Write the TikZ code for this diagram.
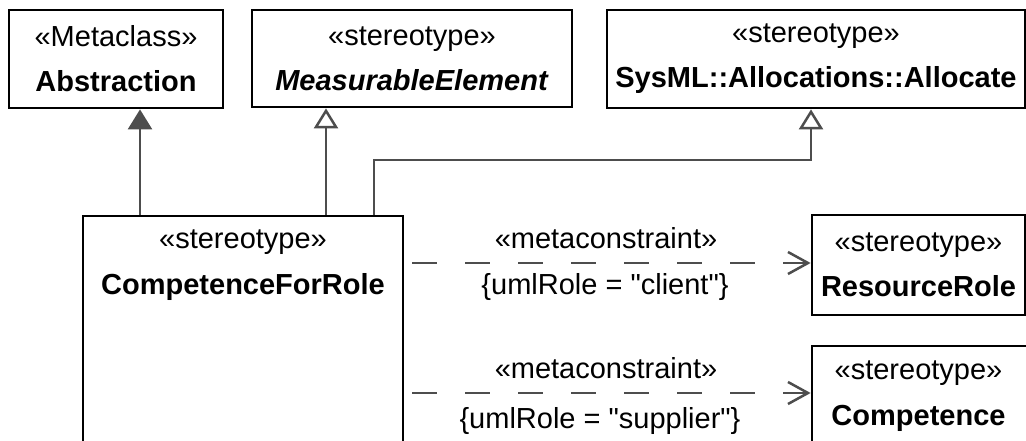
\documentclass[tikz,border=0pt]{standalone}
\usepackage{fontspec}
\setmainfont{Liberation Sans}[Ligatures=TeXOff]
\usetikzlibrary{arrows.meta}
\definecolor{conn}{HTML}{4D4D4D}
\tikzset{
  box/.style={draw=black, line width=2.8pt, rectangle, inner sep=0pt, fill=white},
  txt/.style={font=\fontsize{29}{45}\selectfont, align=center, inner sep=0pt},
  gen/.style={draw=conn, line width=2.5pt, -{Triangle[open, length=20pt, width=24pt, fill=white]}},
  fgen/.style={draw=conn, line width=2.5pt, -{Triangle[length=20pt, width=24pt]}, fill=conn},
  dep/.style={draw=conn, line width=2.5pt, dash pattern=on 25pt off 28pt, -{Straight Barb[length=20pt, width=22pt]}},
}
\begin{document}
\begin{tikzpicture}[x=1pt, y=-1pt]
\clip (0,0) rectangle (1026,441);
\fill[white] (0,0) rectangle (1026,441);
% top boxes
\node[box, minimum width=214pt, minimum height=98pt] (abs) at (116,59) {};
\node[txt] (absT) at (abs.center) {«Metaclass»\\\textbf{Abstraction}};
\node[box, minimum width=320pt, minimum height=97pt] (meas) at (412,58.5) {};
\node[txt] (measT) at (meas.center) {«stereotype»\\\textbf{\textit{MeasurableElement}}};
\node[box, minimum width=418pt, minimum height=98pt] (alloc) at (816,59) {};
\node[txt] (allocT) at (alloc.center) {«stereotype»\\\textbf{SysML::Allocations::Allocate}};
% main box
\node[box, minimum width=320pt, minimum height=234pt] (cfr) at (243,333) {};
\node[txt] (cfrS) at (243,242) {«stereotype»};
\node[txt] (cfrN) at (243,287) {\textbf{CompetenceForRole}};
% right boxes
\node[box, minimum width=213pt, minimum height=100pt] (rr) at (918.5,265) {};
\node[txt] (rrT) at (rr.center) {«stereotype»\\\textbf{ResourceRole}};
\node[box, minimum width=218pt, minimum height=114pt] (comp) at (921,403) {};
\node[txt] (compS) at (918.5,373) {«stereotype»};
\node[txt] (compN) at (918.5,418) {\textbf{Competence}};
% generalizations
\coordinate (xa) at (140,0);
\coordinate (xm) at (326,0);
\coordinate (xs) at (374,0);
\coordinate (xt) at (811,160);
\draw[fgen] (cfr.north -| xa) -- (abs.south -| xa);
\draw[gen] (cfr.north -| xm) -- (meas.south -| xm);
\draw[gen] (cfr.north -| xs) |- (xt) -- (alloc.south -| xt);
% dependencies
\coordinate (d1) at (412,263);
\coordinate (d2) at (412,393);
\draw[dep] (d1) -- (d1 -| rr.west);
\draw[dep] (d2) -- (d2 -| comp.west);
\node[txt] (m1) at (606,238) {«metaconstraint»};
\node[txt] (c1) at (605,287) {\{umlRole = "client"\}};
\node[txt] (m2) at (606,368) {«metaconstraint»};
\node[txt] (c2) at (600,421) {\{umlRole = "supplier"\}};
\end{tikzpicture}
\end{document}
